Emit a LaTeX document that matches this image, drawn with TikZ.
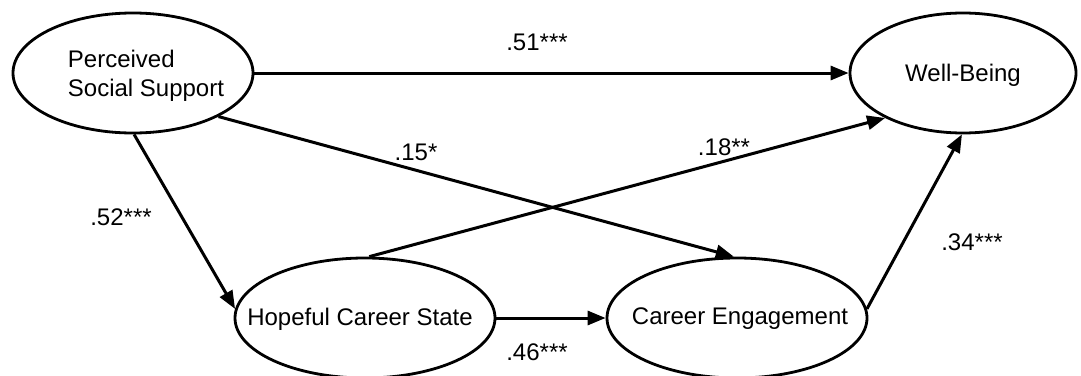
\documentclass[tikz,border=0pt]{standalone}
\usepackage{fontspec}
\setmainfont{Liberation Sans}
\usetikzlibrary{shapes.geometric,arrows.meta}
\begin{document}
\begin{tikzpicture}[x=1pt,y=-1pt,
  latent/.style={draw,ellipse,line width=2.8pt,inner sep=0pt},
  lbl/.style={font=\fontsize{24}{29}\selectfont,inner sep=0pt},
  path/.style={line width=3pt,-{Triangle[length=18pt,width=14pt]}},
  coef/.style={font=\fontsize{24}{29}\selectfont,inner sep=0pt}]
\useasboundingbox (0,0) rectangle (1081,375);
\node[latent,minimum width=240pt,minimum height=120pt] (pss) at (133,73) {};
\node[lbl,align=left] (pssT) at (146,76) {Perceived\\Social Support};
\node[latent,minimum width=226pt,minimum height=120pt] (wb) at (963,73) {};
\node[lbl] (wbT) at (963,75) {Well-Being};
\node[latent,minimum width=260pt,minimum height=120pt] (hcs) at (365,318) {};
\node[lbl] (hcsT) at (360,319) {Hopeful Career State};
\node[latent,minimum width=260pt,minimum height=120pt] (ce) at (737,318) {};
\node[lbl] (ceT) at (740,319) {Career Engagement};
\draw[path] (pss.east) -- (wb.west);
\draw[path] (pss.-27) -- (ce.93);
\draw[path] (pss.-89) -- (hcs.176);
\draw[path] (hcs.86) -- (wb.-150);
\draw[path] (hcs.east) -- (ce.west);
\draw[path] (ce.4) -- (wb.-91);
\node[coef] (c1) at (537,42) {.51***};
\node[coef] (c2) at (416,152) {.15*};
\node[coef] (c3) at (724,147) {.18**};
\node[coef] (c4) at (121,217) {.52***};
\node[coef] (c5) at (972,242) {.34***};
\node[coef] (c6) at (537,352) {.46***};
\end{tikzpicture}
\end{document}
